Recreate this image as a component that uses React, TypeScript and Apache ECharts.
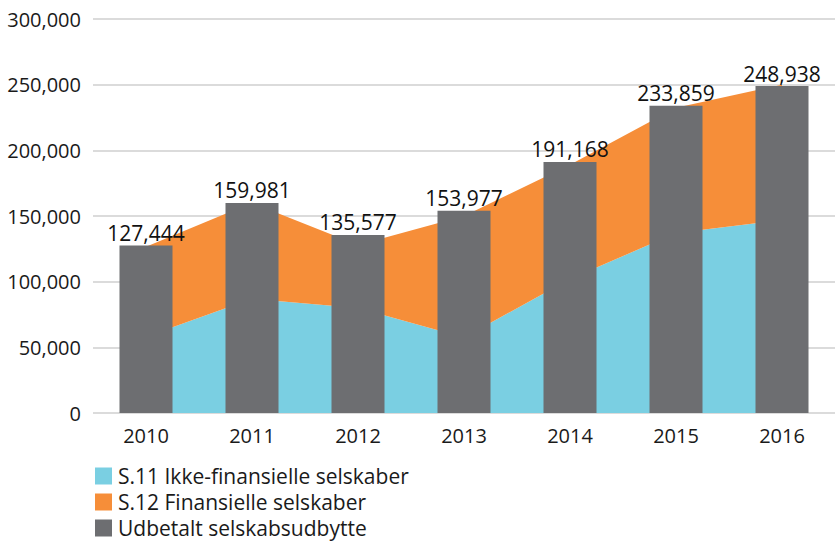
import React, { useEffect, useRef } from "react";
import * as echarts from "echarts";

const years = ["2010", "2011", "2012", "2013", "2014", "2015", "2016"];
const s11 = [58000, 87000, 80000, 57500, 102000, 137000, 147000];
const s12 = [68500, 73000, 48000, 92500, 87000, 95500, 103000];
const dividend = [127444, 159981, 135577, 153977, 191168, 233859, 248938];
const names = ["S.11 Ikke-finansielle selskaber", "S.12 Finansielle selskaber", "Udbetalt selskabsudbytte"];

const FONT = "Open Sans";
const fmt = (v: number) => v.toLocaleString("en-US");

export default function App() {
  const ref = useRef<HTMLDivElement>(null);
  useEffect(() => {
    document.body.style.margin = "0";
    if (!ref.current) return;
    const chart = echarts.init(ref.current, null, { renderer: "svg" });
    const legendTops = [465, 491, 517];
    chart.setOption({
      animation: false,
      textStyle: { fontFamily: FONT },
      grid: { left: 93, right: -6, top: 19, bottom: 129, containLabel: false },
      legend: names.map((n, i) => ({
        orient: "vertical",
        left: 95,
        top: legendTops[i],
        padding: 0,
        itemWidth: 17,
        itemHeight: 17,
        itemGap: 0,
        icon: "rect",
        data: [n],
        textStyle: {
          fontSize: 21,
          lineHeight: 22,
          color: "#1a1a1a",
          fontFamily: FONT,
          padding: [0, 0, 0, 1],
        },
      })),
      xAxis: {
        type: "category",
        data: years,
        axisTick: { show: false },
        axisLine: { show: false },
        axisLabel: { fontSize: 20, color: "#1a1a1a", margin: 12, fontFamily: FONT },
      },
      yAxis: {
        type: "value",
        min: 0,
        max: 300000,
        interval: 50000,
        axisLabel: {
          fontSize: 20,
          color: "#1a1a1a",
          margin: 12,
          fontFamily: FONT,
          formatter: (v: number) => fmt(v),
        },
        splitLine: { lineStyle: { color: "#cfcfcf", width: 1.5 } },
      },
      series: [
        {
          name: names[0],
          type: "line",
          stack: "total",
          data: s11,
          showSymbol: false,
          symbol: "none",
          lineStyle: { width: 0 },
          areaStyle: { color: "#7acfe2", opacity: 1 },
          itemStyle: { color: "#7acfe2" },
          z: 1,
        },
        {
          name: names[1],
          type: "line",
          stack: "total",
          data: s12,
          showSymbol: false,
          symbol: "none",
          lineStyle: { width: 0 },
          areaStyle: { color: "#f68e39", opacity: 1 },
          itemStyle: { color: "#f68e39" },
          z: 1,
        },
        {
          name: names[2],
          type: "bar",
          data: dividend,
          barWidth: 53,
          itemStyle: { color: "#6d6e71" },
          z: 3,
          label: {
            show: true,
            position: "top",
            distance: 2,
            fontSize: 21,
            color: "#111",
            fontFamily: FONT,
            formatter: (p: any) => fmt(p.value),
          },
        },
      ],
    });
    return () => chart.dispose();
  }, []);
  return <div ref={ref} style={{ width: 835, height: 542 }} />;
}
